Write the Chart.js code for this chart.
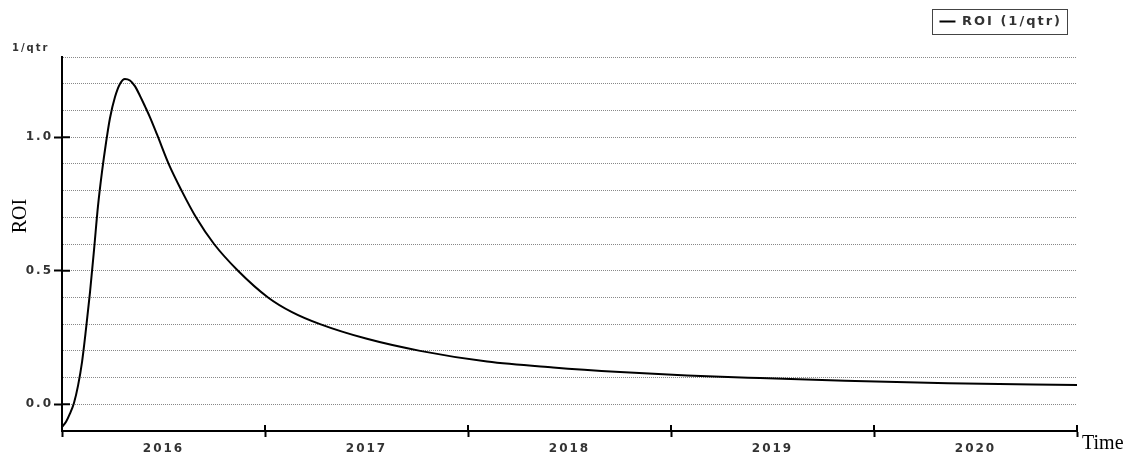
<!DOCTYPE html>
<html>
<head>
<meta charset="utf-8">
<script src="https://cdn.jsdelivr.net/npm/chart.js@4/dist/chart.umd.min.js"></script>
<style>
  html, body { margin: 0; padding: 0; background: #fff; }
  #roiChart { display: block; }
</style>
</head>
<body>
<canvas id="roiChart" width="1143" height="458"></canvas>
<script>
// values (time in decimal years)
const timeYears = [2016.000, 2016.020, 2016.039, 2016.059, 2016.079, 2016.099, 2016.118, 2016.138,
                   2016.158, 2016.177, 2016.197, 2016.217, 2016.236, 2016.261, 2016.286, 2016.310,
                   2016.335, 2016.360, 2016.384, 2016.409, 2016.433, 2016.468, 2016.527, 2016.591,
                   2016.660, 2016.749, 2016.867, 2017.015, 2017.133, 2017.271, 2017.502, 2017.764,
                   2018.094, 2018.419, 2018.749, 2019.079, 2019.438, 2019.857, 2020.365, 2021.000];
const roiValues = [-0.085, -0.065, -0.035, 0.005, 0.07, 0.16, 0.28, 0.42,
                   0.58, 0.74, 0.87, 0.98, 1.07, 1.15, 1.20, 1.218,
                   1.212, 1.19, 1.155, 1.115, 1.075, 1.01, 0.897, 0.797,
                   0.7, 0.6, 0.5, 0.4, 0.345, 0.3, 0.245, 0.20,
                   0.16, 0.138, 0.121, 0.108, 0.098, 0.088, 0.079, 0.072];
const yearLabels = [2016, 2017, 2018, 2019, 2020];
const yLabelled = [0, 0.5, 1.0];
const seriesName = 'ROI (1/qtr)';
const yUnit = '1/qtr';
const yTitle = 'ROI';
const xTitle = 'Time';

const yearEdges = [...yearLabels, yearLabels[yearLabels.length - 1] + 1];
const xTickValues = [];
yearLabels.forEach(y => xTickValues.push(y, y + 0.5));
xTickValues.push(yearEdges[yearEdges.length - 1]);
const yTickValues = [];
for (let i = -1; i <= 13; i++) yTickValues.push(i / 10);

const isLabelled = v => yLabelled.some(l => Math.abs(l - v) < 1e-6);
const uiFont = 'DejaVu Sans';
const textColor = '#333';

const tweaks = {
    id: 'tweaks',
    beforeUpdate(chart) { chart.ctx.letterSpacing = '2px'; },
    // keep the legend at the very top, the plot area starts lower
    afterLayout(chart) {
        const lg = chart.legend;
        const dy = lg.top;
        lg.top -= dy;
        lg.bottom -= dy;
    }
};

const extras = {
    id: 'extras',
    afterDraw(chart) {
        const { ctx, chartArea, scales: { x, y } } = chart;
        ctx.save();
        // inner halves of the axis tick marks
        ctx.strokeStyle = '#000';
        ctx.lineWidth = 2;
        ctx.beginPath();
        yearEdges.slice(1).forEach(v => {
            const px = x.getPixelForValue(v);
            ctx.moveTo(px, chartArea.bottom - 6);
            ctx.lineTo(px, chartArea.bottom);
        });
        yLabelled.forEach(v => {
            const py = y.getPixelForValue(v);
            ctx.moveTo(chartArea.left, py);
            ctx.lineTo(chartArea.left + 8, py);
        });
        ctx.stroke();

        // legend frame
        const hb = chart.legend.legendHitBoxes[0];
        if (hb) {
            ctx.lineWidth = 1;
            ctx.strokeStyle = '#444';
            ctx.strokeRect(Math.round(hb.left - 7) + 0.5, Math.round(hb.top - 6) + 0.5,
                           Math.round(hb.width + 12), Math.round(hb.height + 12));
        }

        // unit label
        ctx.fillStyle = textColor;
        ctx.letterSpacing = '2px';
        ctx.font = 'bold 10px "' + uiFont + '"';
        ctx.textAlign = 'left';
        ctx.textBaseline = 'alphabetic';
        ctx.fillText(yUnit, chartArea.left - 50, chartArea.top - 6);

        // axis titles
        ctx.letterSpacing = '0px';
        ctx.fillStyle = '#000';
        ctx.font = '20px "Liberation Serif"';
        ctx.fillText(xTitle, chartArea.right + 5, chartArea.bottom + 18);
        ctx.translate(chartArea.left - 41, chartArea.top + 159);
        ctx.rotate(-Math.PI / 2);
        ctx.textAlign = 'center';
        ctx.textBaseline = 'middle';
        ctx.fillText(yTitle, 0, 0);
        ctx.restore();
    }
};

new Chart(document.getElementById('roiChart'), {
    type: 'line',
    data: {
        datasets: [{
            label: seriesName,
            data: timeYears.map((t, i) => ({ x: t, y: roiValues[i] })),
            borderColor: '#000',
            backgroundColor: '#000',
            borderWidth: 2,
            pointRadius: 0,
            cubicInterpolationMode: 'monotone',
            fill: false
        }]
    },
    options: {
        responsive: false,
        animation: false,
        devicePixelRatio: 1,
        layout: { padding: { left: 0, top: 0, right: 66, bottom: 0 } },
        plugins: {
            tooltip: { enabled: false },
            legend: {
                position: 'top',
                align: 'end',
                labels: {
                    boxWidth: 16,
                    boxHeight: 2,
                    padding: 15,
                    color: textColor,
                    font: { family: uiFont, size: 13, weight: 'bold' },
                    generateLabels: chart => Chart.defaults.plugins.legend.labels.generateLabels(chart)
                        .map(l => ({ ...l, lineWidth: 0, fillStyle: '#000' }))
                }
            }
        },
        scales: {
            x: {
                type: 'linear',
                min: yearEdges[0],
                max: yearEdges[yearEdges.length - 1],
                afterBuildTicks: s => { s.ticks = xTickValues.map(v => ({ value: v })); },
                afterFit: s => { s.height = 27; },
                ticks: {
                    autoSkip: false,
                    maxRotation: 0,
                    padding: 5,
                    color: textColor,
                    font: { family: uiFont, size: 12, weight: 'bold' },
                    callback: v => (v % 1 ? String(Math.floor(v)) : '')
                },
                grid: {
                    drawOnChartArea: false,
                    tickLength: 6,
                    tickWidth: 2,
                    tickColor: c => (c.tick && c.tick.value % 1 === 0 ? '#000' : 'rgba(0,0,0,0)')
                },
                border: { color: '#000', width: 2 }
            },
            y: {
                min: -0.1,
                max: 1.3,
                afterBuildTicks: s => { s.ticks = yTickValues.map(v => ({ value: v })); },
                afterFit: s => { s.width = 62; s.paddingTop = 57; },
                ticks: {
                    autoSkip: false,
                    padding: 1,
                    color: textColor,
                    font: { family: uiFont, size: 12, weight: 'bold' },
                    callback: v => (isLabelled(v) ? v.toFixed(1) : '')
                },
                grid: {
                    color: c => (c.tick && c.tick.value < -0.05 ? 'rgba(0,0,0,0)' : '#888'),
                    lineWidth: 1,
                    tickLength: 8,
                    tickWidth: 2,
                    tickColor: c => (c.tick && isLabelled(c.tick.value) ? '#000' : 'rgba(0,0,0,0)')
                },
                border: { color: '#000', width: 2, dash: [1, 1] }
            }
        }
    },
    plugins: [tweaks, extras]
});
</script>
</body>
</html>
